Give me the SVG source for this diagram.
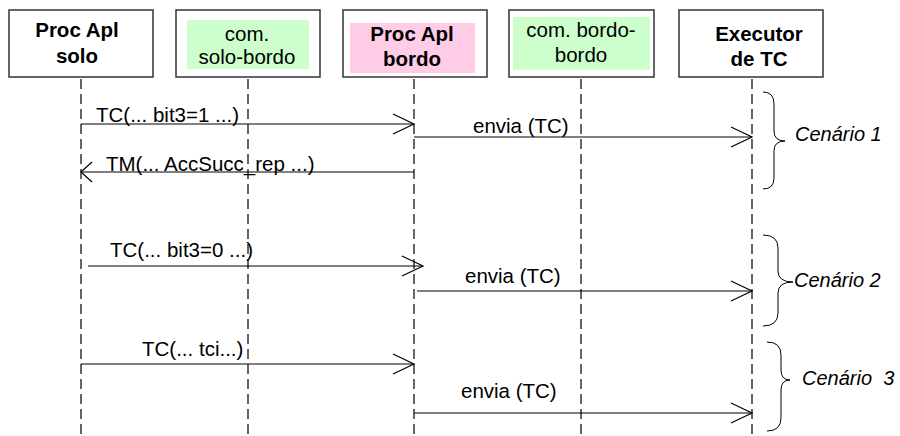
<svg xmlns="http://www.w3.org/2000/svg" width="900" height="436" viewBox="0 0 900 436">
<defs>
<style>
.box{fill:#fff;stroke:#333;stroke-width:1.5}
.green{fill:#ccffcc}
.pink{fill:#ffcce6}
.life{stroke:#000;stroke-width:1.2;stroke-dasharray:10 5;fill:none}
.msg{stroke:#000;stroke-width:1.2;fill:none}
.brace{stroke:#000;stroke-width:1;fill:none}
text{font-family:"Liberation Sans",Arial,sans-serif;font-size:20.5px;fill:#000}
.b{font-weight:bold}
.c{text-anchor:middle}
.i{font-style:italic;white-space:pre;font-size:20px}
</style>
<marker id="ah" markerUnits="userSpaceOnUse" markerWidth="24" markerHeight="24" refX="21" refY="11" orient="auto" overflow="visible">
<path d="M0,1 L21,11 L0,21" fill="none" stroke="#000" stroke-width="1.2"/>
</marker>
<marker id="ahs" markerUnits="userSpaceOnUse" markerWidth="24" markerHeight="24" refX="11" refY="11" orient="auto" overflow="visible">
<path d="M0,1 L11,11 L0,21" fill="none" stroke="#000" stroke-width="1.2"/>
</marker>
</defs>
<rect width="900" height="436" fill="#fff"/>
<g id="lifelines">
<line class="life" x1="81" y1="79" x2="81" y2="436"/>
<line class="life" x1="248" y1="79" x2="248" y2="436"/>
<line class="life" x1="414" y1="79" x2="414" y2="436"/>
<line class="life" x1="581" y1="79" x2="581" y2="436"/>
<line class="life" x1="752" y1="79" x2="752" y2="436"/>
</g>
<g id="node-proc-apl-solo">
<rect class="box" x="9" y="10" width="144" height="67"/>
<text class="b c" x="77" y="37">Proc Apl</text>
<text class="b c" x="77" y="63">solo</text>
</g>
<g id="node-com-solo-bordo">
<rect class="box" x="176" y="10" width="144" height="67"/>
<rect class="green" x="187" y="20" width="122" height="49"/>
<text class="c" x="247" y="41">com.</text>
<text class="c" x="247" y="64">solo-bordo</text>
</g>
<g id="node-proc-apl-bordo">
<rect class="box" x="343" y="10" width="144" height="67"/>
<rect class="pink" x="350" y="23" width="125" height="50"/>
<text class="b c" x="412" y="41">Proc Apl</text>
<text class="b c" x="412" y="66">bordo</text>
</g>
<g id="node-com-bordo-bordo">
<rect class="box" x="509" y="10" width="145" height="67"/>
<rect class="green" x="513" y="17" width="137" height="53"/>
<text class="c" x="581" y="37">com. bordo-</text>
<text class="c" x="581" y="62">bordo</text>
</g>
<g id="node-executor-tc">
<rect class="box" x="679" y="10" width="144" height="67"/>
<text class="b c" x="759" y="41">Executor</text>
<text class="b c" x="759" y="66">de TC</text>
</g>
<g id="connectors">
<line class="msg" x1="81" y1="124" x2="414" y2="124" marker-end="url(#ah)"/>
<line class="msg" x1="414" y1="137" x2="752" y2="137" marker-end="url(#ah)"/>
<line class="msg" x1="414" y1="172" x2="81" y2="172" marker-end="url(#ahs)"/>
<line class="msg" x1="88" y1="266" x2="423" y2="266" marker-end="url(#ah)"/>
<line class="msg" x1="417" y1="291" x2="752" y2="291" marker-end="url(#ah)"/>
<line class="msg" x1="81" y1="364" x2="414" y2="364" marker-end="url(#ah)"/>
<line class="msg" x1="414" y1="413" x2="752" y2="413" marker-end="url(#ah)"/>
</g>
<g id="labels">
<text x="96" y="122">TC(... bit3=1 ...)</text>
<text x="473" y="133">envia (TC)</text>
<text x="106" y="171">TM(... AccSucc_rep ...)</text>
<text x="110" y="257">TC(... bit3=0 ...)</text>
<text x="465" y="283">envia (TC)</text>
<text x="142" y="356">TC(... tci...)</text>
<text x="461" y="398">envia (TC)</text>
</g>
<g id="scenario-1">
<path class="brace" d="M763,92 Q774,92 774,104 L774,131 Q774,141 785,141 Q774,141 774,151 L774,178 Q774,189 763,189"/>
<text class="i" x="795" y="141">Cenário 1</text>
</g>
<g id="scenario-2">
<path class="brace" d="M763,235 Q778,235 778,248 L778,271 Q778,282 793,282 Q778,282 778,293 L778,313 Q778,326 763,326"/>
<text class="i" x="794" y="287">Cenário 2</text>
</g>
<g id="scenario-3">
<path class="brace" d="M767,342 Q781,342 781,355 L781,370 Q781,380 790,380 Q781,380 781,390 L781,418 Q781,431 767,431"/>
<text class="i" x="802" y="385">Cenário  3</text>
</g>
</svg>
